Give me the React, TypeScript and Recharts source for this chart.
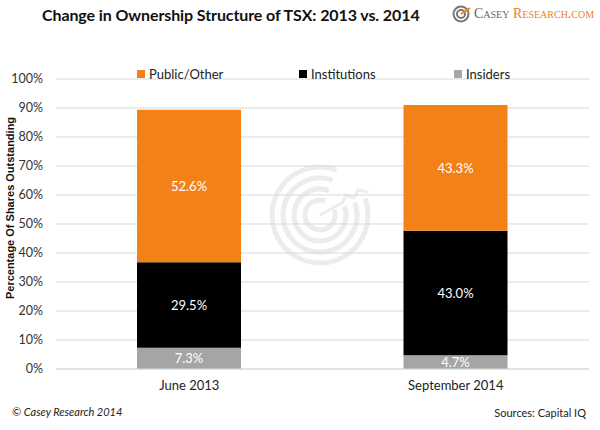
import React from "react"
import {
  BarChart, Bar, XAxis, YAxis, CartesianGrid, Legend, LabelList,
} from "recharts"

// values (percent of shares outstanding)
const periods = ["June 2013", "September 2014"]
const insiders = [7.3, 4.7]
const institutions = [29.5, 43.0]
const publicOther = [52.6, 43.3]
const yTicks = [0, 10, 20, 30, 40, 50, 60, 70, 80, 90, 100]

const series = [
  { key: "insiders", name: "Insiders", color: "#A5A5A5" },
  { key: "institutions", name: "Institutions", color: "#000000" },
  { key: "publicOther", name: "Public/Other", color: "#F28118" },
]

const FONT = "Lato, 'Open Sans', sans-serif"
const LEGEND_X: Record<string, number> = { "Public/Other": 137, Institutions: 299, Insiders: 454 }

const data = periods.map((p, i) => ({
  period: p,
  insiders: insiders[i],
  institutions: institutions[i],
  publicOther: publicOther[i],
}))

function LegendContent() {
  const order = [...series].reverse()
  return (
    <div style={{ position: "relative", height: 18, fontFamily: FONT, fontSize: 13, color: "#222" }}>
      {order.map((s) => (
        <div key={s.key} style={{ position: "absolute", left: LEGEND_X[s.name], top: 0, display: "flex", alignItems: "center" }}>
          <span style={{ width: 8, height: 8, background: s.color, marginRight: 4, display: "inline-block" }} />
          <span>{s.name}</span>
        </div>
      ))}
    </div>
  )
}

function YLabel() {
  return (
    <text
      x={10}
      y={208}
      transform="rotate(-90, 10, 208)"
      textAnchor="middle"
      dominantBaseline="central"
      style={{ fill: "#111", fontSize: 11, fontWeight: 700, fontFamily: "'Liberation Sans Narrow', 'Arial Narrow', sans-serif" }}
    >
      Percentage Of Shares Outstanding
    </text>
  )
}

function Watermark() {
  const cx = 320, cy = 215
  const arc = (r: number) => {
    // open ring with a gap toward the upper right
    const a0 = (-20 * Math.PI) / 180
    const a1 = (-70 * Math.PI) / 180
    const x0 = cx + r * Math.cos(a0), y0 = cy + r * Math.sin(a0)
    const x1 = cx + r * Math.cos(a1), y1 = cy + r * Math.sin(a1)
    return `M ${x0} ${y0} A ${r} ${r} 0 1 1 ${x1} ${y1}`
  }
  return (
    <svg width={600} height={430} style={{ position: "absolute", left: 0, top: 0 }}>
      <g fill="none" stroke="#ececec" strokeWidth={5}>
        {[48, 37, 26, 15].map((r) => <path key={r} d={arc(r)} />)}
        <polyline points={`${cx},${cy} ${cx + 22},${cy - 12} ${cx + 26},${cy - 20} ${cx + 34},${cy - 17} ${cx + 38},${cy - 25} ${cx + 48},${cy - 23}`} strokeWidth={3} />
      </g>
    </svg>
  )
}

export default function App() {
  return (
    <div style={{ position: "absolute", left: 0, top: 0, width: 600, height: 430, background: "#fff", fontFamily: FONT }}>
      <Watermark />
      <div style={{ position: "absolute", left: 42, top: 5, fontSize: 16, fontWeight: 700, color: "#111", letterSpacing: -0.1 }}>
        Change in Ownership Structure of TSX: 2013 vs. 2014
      </div>
      <div style={{ position: "absolute", left: 452, top: 5, display: "flex", alignItems: "center" }}>
        <svg width={20} height={18}>
          <g fill="none" stroke="#777" strokeWidth={2}>
            <circle cx={9} cy={9} r={7.5} />
            <circle cx={9} cy={9} r={4} />
          </g>
          <line x1={9} y1={9} x2={18} y2={3} stroke="#F28118" strokeWidth={2} />
        </svg>
        <span style={{ fontFamily: "'Liberation Serif', serif", fontVariant: "small-caps", fontSize: 14, marginLeft: 2 }}>
          <span style={{ color: "#666" }}>Casey </span>
          <span style={{ color: "#F28118" }}>Research.com</span>
        </span>
      </div>
      <div style={{ position: "absolute", left: 0, top: 0 }}>
        <BarChart
          width={600}
          height={430}
          data={data}
          margin={{ top: 61, right: 11, bottom: 30, left: 0 }}
        >
          <CartesianGrid vertical={false} stroke="#d9d9d9" />
          <XAxis
            dataKey="period"
            axisLine={{ stroke: "#d9d9d9" }}
            tickLine={false}
            tickMargin={6}
            height={31}
            tick={{ fill: "#222", fontSize: 13, fontFamily: FONT }}
          />
          <YAxis
            domain={[0, 100]}
            ticks={yTicks}
            interval={0}
            tickFormatter={(v) => `${v}%`}
            axisLine={false}
            tickLine={false}
            tickMargin={7}
            width={56}
            tick={{ fill: "#333", fontSize: 12.5, fontFamily: FONT }}
            label={<YLabel />}
          />
          <Legend verticalAlign="top" content={<LegendContent />} wrapperStyle={{ top: 66, left: 0, width: 600 }} />
          {series.map((s) => (
            <Bar key={s.key} dataKey={s.key} name={s.name} stackId="a" fill={s.color} barSize={104} isAnimationActive={false}>
              <LabelList
                dataKey={s.key}
                position="center"
                formatter={(v: any) => `${Number(v).toFixed(1)}%`}
                style={{ fill: "#fff", fontSize: 13, fontFamily: FONT }}
              />
            </Bar>
          ))}
        </BarChart>
      </div>
      <div style={{ position: "absolute", left: 12, top: 405, fontSize: 11, fontStyle: "italic", color: "#222" }}>
        © Casey Research 2014
      </div>
      <div style={{ position: "absolute", right: 14, top: 406, fontSize: 11, color: "#222" }}>
        Sources: Capital IQ
      </div>
    </div>
  )
}
